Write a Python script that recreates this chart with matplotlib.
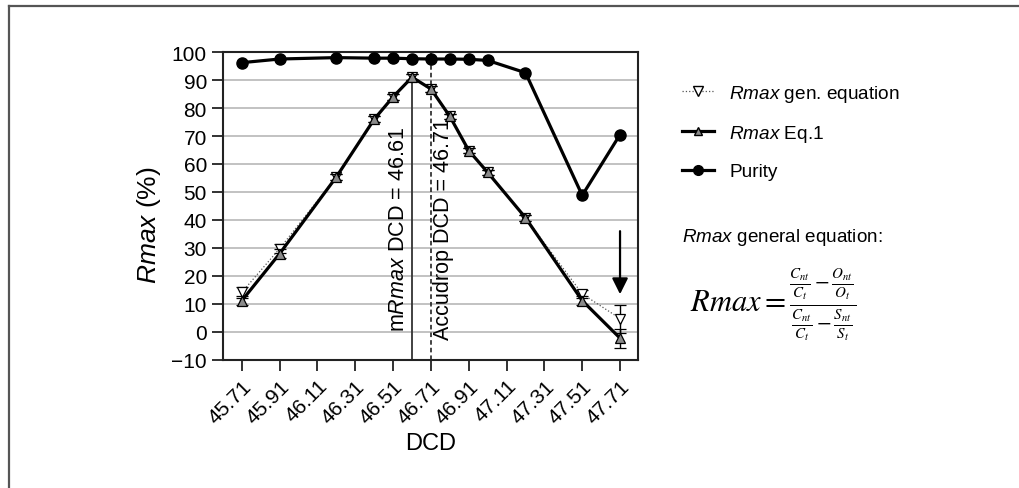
import matplotlib
matplotlib.use("Agg")
import matplotlib.pyplot as plt
from matplotlib.lines import Line2D

plt.rcParams['font.family'] = ['Liberation Sans', 'DejaVu Sans']
plt.rcParams['mathtext.fontset'] = 'custom'
plt.rcParams['mathtext.rm'] = 'Liberation Sans'
plt.rcParams['mathtext.it'] = 'Liberation Sans:italic'

# data
dcd = [45.71, 45.91, 46.21, 46.41, 46.51, 46.61, 46.71, 46.81, 46.91, 47.01, 47.21, 47.51, 47.71]
purity = [96.2, 97.5, 98.0, 97.8, 97.8, 97.6, 97.5, 97.5, 97.4, 97.0, 92.6, 48.8, 70.5]
rmax_eq1 = [11.2, 28.0, 55.4, 76.0, 84.0, 91.0, 86.8, 77.0, 64.8, 57.0, 40.8, 11.2, -2.2]
err_eq1 = [1.5, 1.5, 1.0, 1.0, 1.0, 1.0, 1.0, 1.0, 1.0, 1.0, 1.0, 1.5, 3.4]
rmax_gen = [14.2, 29.8, 55.4, 76.0, 84.0, 91.0, 86.8, 77.0, 64.8, 57.0, 40.8, 13.6, 4.8]
err_gen = [2.0, 1.5, 1.0, 1.0, 1.0, 1.0, 1.0, 1.0, 1.0, 1.0, 1.0, 1.5, 5.0]
tick_pos = [45.71, 45.91, 46.11, 46.31, 46.51, 46.71, 46.91, 47.11, 47.31, 47.51, 47.71]
mrmax_dcd = 46.61
accudrop_dcd = 46.71

fig = plt.figure(figsize=(10.19, 4.89), dpi=100)
ax = fig.add_axes([0.2188, 0.2618, 0.4073, 0.6298])

ax.grid(axis='y', color='#bdbdbd', lw=1.3, zorder=0)
ax.set_axisbelow(True)

ax.vlines(mrmax_dcd, -10, 91, color='#333333', lw=1.3, zorder=1)
ax.vlines(accudrop_dcd, -10, 100, color='#111111', lw=1.1, ls=(0, (3, 2)), zorder=1)
ax.text(mrmax_dcd - 0.014, 0.3, 'm$\\mathit{Rmax}$ DCD = 46.61', rotation=90,
        ha='right', va='bottom', fontsize=15.5)
ax.text(accudrop_dcd + 0.012, -2.5, 'Accudrop DCD = 46.71', rotation=90,
        ha='left', va='bottom', fontsize=15.5)

ax.errorbar(dcd, rmax_gen, yerr=err_gen, color='#555555', ls=':', lw=0.9,
            marker='v', ms=7, mfc='white', mec='black', mew=0.9,
            ecolor='black', elinewidth=1, capsize=4, capthick=1, zorder=3)
ax.errorbar(dcd, rmax_eq1, yerr=err_eq1, color='black', lw=2.3,
            marker='^', ms=7, mfc='#8a8a8a', mec='black', mew=0.9,
            ecolor='black', elinewidth=1, capsize=4, capthick=1, zorder=4)
ax.plot(dcd, purity, color='black', lw=2.3, marker='o', ms=8, zorder=5)

ax.annotate('', xy=(47.71, 12.5), xytext=(47.71, 37),
            arrowprops=dict(arrowstyle='-|>', lw=1.6, color='black', mutation_scale=24))

ax.set_xlim(45.61, 47.805)
ax.set_ylim(-10, 100)
ax.set_yticks(range(-10, 101, 10))
ax.set_yticklabels(['\u221210'] + [str(v) for v in range(0, 101, 10)])
ax.set_xticks(tick_pos)
ax.set_xticklabels(['%.2f' % t for t in tick_pos], rotation=45, ha='right',
                   rotation_mode='anchor')
ax.tick_params(labelsize=15, width=1.3, length=8, color='#222222')
for s in ax.spines.values():
    s.set_linewidth(1.5)
    s.set_color('#222222')

ax.set_xlabel('DCD', fontsize=17)
ax.set_ylabel('$\\mathit{Rmax}$ (%)', fontsize=19)
ax.xaxis.set_label_coords(0.50, -0.234)
ax.yaxis.set_label_coords(-0.144, 0.44)

handles = [
    Line2D([], [], color='#555555', ls=':', lw=0.9, marker='v', ms=7, mfc='white', mec='black'),
    Line2D([], [], color='black', lw=2.3, marker='^', ms=6, mfc='#8a8a8a', mec='black'),
    Line2D([], [], color='black', lw=2.3, marker='o', ms=7),
]
labels = ['$\\mathit{Rmax}$ gen. equation', '$\\mathit{Rmax}$ Eq.1', 'Purity']
fig.legend(handles, labels, loc='upper left', bbox_to_anchor=(0.652, 0.863),
           frameon=False, fontsize=13.7, handlelength=1.7, labelspacing=1.0,
           handletextpad=0.8)

fig.text(0.669, 0.515, '$\\mathit{Rmax}$ general equation:', fontsize=13.6, va='center')
fig.text(0.677, 0.377,
         r'$\mathit{Rmax} = \frac{\frac{C_{nt}}{C_t} - \frac{O_{nt}}{O_t}}{\frac{C_{nt}}{C_t} - \frac{S_{nt}}{S_t}}$',
         fontsize=22, va='center', math_fontfamily='stix')

# thin frame along top and left of the image
fig.add_artist(Line2D([8.5 / 1019, 1], [1 - 6.5 / 489] * 2, transform=fig.transFigure,
                      color='#555555', lw=1.6))
fig.add_artist(Line2D([8.5 / 1019] * 2, [0, 1 - 6.5 / 489], transform=fig.transFigure,
                      color='#555555', lw=1.6))

fig.savefig('out.png', dpi=100)
